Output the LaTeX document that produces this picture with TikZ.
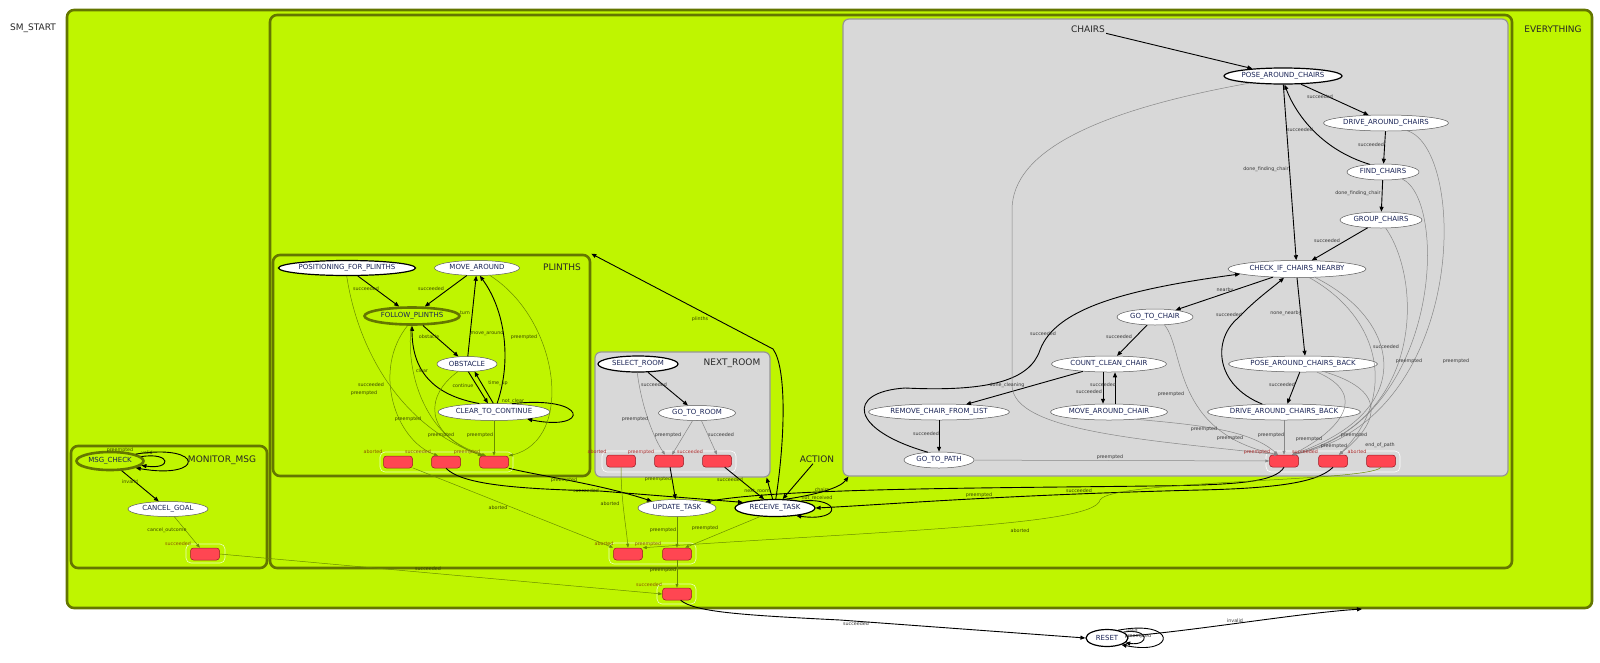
\documentclass[tikz,border=0pt]{standalone}
\usepackage{fontspec}
\setmainfont{DejaVu Sans}
\usetikzlibrary{arrows.meta,shapes.geometric}
\definecolor{cLime}{RGB}{191,245,0}
\definecolor{cOlive}{RGB}{100,118,0}
\definecolor{cGray}{RGB}{216,216,216}
\definecolor{cGrayB}{RGB}{150,150,150}
\definecolor{cText}{RGB}{25,35,85}
\definecolor{cRed}{RGB}{255,70,82}
\definecolor{cRedB}{RGB}{150,25,35}
\definecolor{cGE}{RGB}{135,135,135}
\definecolor{cOE}{RGB}{105,140,0}
\definecolor{cGL}{RGB}{55,55,55}
\definecolor{cOL}{RGB}{55,70,0}
\definecolor{cRL}{RGB}{170,45,45}
\definecolor{cYL}{RGB}{140,85,0}
\definecolor{cFrame}{RGB}{235,255,190}
\newcommand{\EL}[4]{\node[#1] (#2) at (#3) {#4};}
\begin{document}
\begin{tikzpicture}[x=1pt,y=-1pt,
 cont/.style={rectangle, draw=cOlive, line width=2.6pt, fill=cLime, rounded corners=7pt, inner sep=0},
 gcont/.style={rectangle, draw=cGrayB, line width=1.2pt, fill=cGray, rounded corners=6pt, inner sep=0},
 clbl/.style={font=\fontsize{9}{10}\selectfont, text=black!85, inner sep=1pt},
 st/.style={ellipse, draw=black!65, line width=0.5pt, fill=white, inner sep=0, minimum height=16pt, font=\fontsize{7}{8}\selectfont, text=cText},
 ist/.style={st, draw=black, line width=1.2pt},
 ast/.style={st, draw=cOlive, line width=2.6pt, fill=cLime},
 obox/.style={rectangle, rounded corners=3pt, draw=cRedB, line width=0.5pt, fill=cRed, minimum width=29pt, minimum height=12pt, inner sep=0},
 oframe/.style={rectangle, rounded corners=5pt, draw=cFrame, line width=0.6pt, inner sep=0},
 gframe/.style={rectangle, rounded corners=5pt, draw=white, line width=0.6pt, inner sep=0},
 tr/.style={draw=black, line width=0.9pt, -{Triangle[length=5pt,width=4pt]}},
 gtr/.style={draw=cGE, line width=0.5pt, -{Triangle[length=4pt,width=3pt]}},
 otr/.style={draw=cOE, line width=0.5pt, -{Triangle[length=4pt,width=3pt]}},
 lb/.style={font=\fontsize{4.8}{5}\selectfont, inner sep=0},
 gl/.style={lb, text=cGL}, ol/.style={lb, text=cOL}, rl/.style={lb, text=cRL}, yl/.style={lb, text=cYL}
]
\useasboundingbox (0,0) rectangle (1600,662);
% containers
\node[cont, minimum width=1525pt, minimum height=598pt] (cEvery) at (829.5,309) {};
\node[cont, minimum width=1242pt, minimum height=553pt] (cAction) at (891,291.5) {};
\node[gcont, minimum width=665pt, minimum height=457pt] (cChairs) at (1175.5,247.5) {};
\node[cont, minimum width=317pt, minimum height=221pt] (cPlinths) at (431.5,365.5) {};
\node[gcont, minimum width=175pt, minimum height=125pt] (cNext) at (682.5,414.5) {};
\node[cont, minimum width=196pt, minimum height=122pt] (cMon) at (169,507) {};
% container labels
\node[clbl] (smstart) at (33,28) {SM\_START};
\node[clbl] (everylbl) at (1553,29) {EVERYTHING};
\node[clbl] (chairslbl) at (1088,29) {CHAIRS};
\node[clbl] (plinthslbl) at (562,267) {PLINTHS};
\node[clbl] (nextlbl) at (732,363) {NEXT\_ROOM};
\node[clbl] (actionlbl) at (817,459) {ACTION};
\node[clbl] (monlbl) at (222,460) {MONITOR\_MSG};
% outcome frames and boxes
\node[oframe, minimum width=39pt, minimum height=19pt] (fMon) at (205.5,553.5) {};
\node[obox] (mbox) at (205,554) {};
\node[oframe, minimum width=133pt, minimum height=20pt] (fPl) at (446.5,462) {};
\node[obox] (pb1) at (398,462) {};
\node[obox] (pb2) at (446,462) {};
\node[obox] (pb3) at (494,462) {};
\node[gframe, minimum width=134pt, minimum height=21pt] (fNx) at (669,461.5) {};
\node[obox] (nb1) at (621,461) {};
\node[obox] (nb2) at (669,461) {};
\node[obox] (nb3) at (717,461) {};
\node[oframe, minimum width=87pt, minimum height=21pt] (fAc) at (652.5,553.5) {};
\node[obox] (ab1) at (628,554) {};
\node[obox] (ab2) at (677,554) {};
\node[oframe, minimum width=39pt, minimum height=20pt] (fEv) at (676.5,594) {};
\node[obox] (eb) at (677,594) {};
\node[gframe, minimum width=134pt, minimum height=21pt] (fCh) at (1333,461.5) {};
\node[obox] (cb1) at (1284,461) {};
\node[obox] (cb2) at (1333,461) {};
\node[obox] (cb3) at (1381,461) {};
% states
\node[ast, minimum width=67pt, minimum height=18pt] (msgcheck) at (110,461) {MSG\_CHECK};
\node[st, minimum width=80pt, minimum height=15pt] (cancelgoal) at (168,509) {CANCEL\_GOAL};
\node[ist, minimum width=137pt, minimum height=15pt] (positioning) at (347,268) {POSITIONING\_FOR\_PLINTHS};
\node[st, minimum width=85pt, minimum height=15pt] (movearound) at (477,268) {MOVE\_AROUND};
\node[ast, minimum width=95pt, minimum height=17pt] (follow) at (412,316) {FOLLOW\_PLINTHS};
\node[st, minimum width=60pt, minimum height=15pt] (obstacle) at (467,364) {OBSTACLE};
\node[st, minimum width=112pt, minimum height=17pt] (clearcont) at (494,412) {CLEAR\_TO\_CONTINUE};
\node[ist, minimum width=80pt] (selectroom) at (638,364) {SELECT\_ROOM};
\node[st, minimum width=77pt, minimum height=15pt] (gotoroom) at (697,413) {GO\_TO\_ROOM};
\node[st, minimum width=78pt, minimum height=17pt] (updatetask) at (677,508) {UPDATE\_TASK};
\node[ist, minimum width=80pt, minimum height=17pt] (receivetask) at (775,508) {RECEIVE\_TASK};
\node[ist, minimum width=42pt, minimum height=17pt] (reset) at (1107,638) {RESET};
\node[ist, minimum width=118pt] (posearound) at (1283,76) {POSE\_AROUND\_CHAIRS};
\node[st, minimum width=125pt] (drivearound) at (1386,123) {DRIVE\_AROUND\_CHAIRS};
\node[st, minimum width=72pt] (findchairs) at (1383,172) {FIND\_CHAIRS};
\node[st, minimum width=82pt] (groupchairs) at (1381,220) {GROUP\_CHAIRS};
\node[st, minimum width=138pt, minimum height=17pt] (checkif) at (1297,269) {CHECK\_IF\_CHAIRS\_NEARBY};
\node[st, minimum width=76pt] (gotochair) at (1155,317) {GO\_TO\_CHAIR};
\node[st, minimum width=115pt] (countclean) at (1109,364) {COUNT\_CLEAN\_CHAIR};
\node[st, minimum width=117pt] (movechair) at (1109,412) {MOVE\_AROUND\_CHAIR};
\node[st, minimum width=141pt] (removechair) at (939,412) {REMOVE\_CHAIR\_FROM\_LIST};
\node[st, minimum width=70pt] (gotopath) at (939,460) {GO\_TO\_PATH};
\node[st, minimum width=149pt] (poseback) at (1303,364) {POSE\_AROUND\_CHAIRS\_BACK};
\node[st, minimum width=153pt] (driveback) at (1284,412) {DRIVE\_AROUND\_CHAIRS\_BACK};
\coordinate (evin) at (1362,609);
% ---- MONITOR_MSG edges
\draw[tr] (msgcheck.15) .. controls (205,443) and (205,480) .. (msgcheck.-15);
\draw[tr] (msgcheck.8) .. controls (172,452) and (172,470) .. (msgcheck.-8);
\draw[tr] (msgcheck) -- (cancelgoal);
\draw[otr] (cancelgoal) -- (mbox);
\draw[otr] (mbox.east) -- (eb.west);
% ---- PLINTHS edges
\draw[tr] (positioning) -- (follow);
\draw[tr] (movearound) -- (follow);
\draw[tr] (follow) -- (obstacle);
\draw[tr] (obstacle) -- (movearound);
\draw[tr] (clearcont.70) .. controls (512,360) and (505,310) .. (movearound.-70);
\draw[tr] (clearcont.150) .. controls (432,395) and (412,370) .. (follow.-90);
\draw[tr] (obstacle.-80) -- (clearcont.125);
\draw[tr] (clearcont.95) -- (obstacle.-45);
\draw[tr] (clearcont.25) .. controls (590,395) and (590,432) .. (clearcont.-12);
\draw[otr] (positioning.-92) .. controls (358,350) and (400,425) .. ([xshift=-12pt]pb3.north);
\draw[otr] (follow.-115) .. controls (372,370) and (395,440) .. ([xshift=-8pt]pb2.north);
\draw[otr] (follow.-95) .. controls (405,380) and (430,440) .. ([xshift=-10pt]pb3.north);
\draw[otr] (obstacle.-140) .. controls (425,395) and (422,435) .. ([xshift=-8pt]pb3.north);
\draw[otr] (clearcont) -- (pb3);
\draw[otr] (movearound.-30) .. controls (560,320) and (575,440) .. (pb3.north east);
\draw[otr] (pb1) -- (ab1.north west);
\draw[tr] (pb2.south) .. controls (462,485) and (520,489) .. (600,491) -- (receivetask.170);
\draw[tr] (pb3.south east) .. controls (540,476) and (600,484) .. (updatetask.165);
% ---- NEXT_ROOM edges
\draw[tr] (selectroom) -- (gotoroom);
\draw[gtr] (selectroom.-95) .. controls (642,410) and (655,440) .. ([xshift=-4pt]nb2.north);
\draw[gtr] (gotoroom.-120) -- ([xshift=3pt]nb2.north);
\draw[gtr] (gotoroom.-60) -- (nb3.north);
\draw[otr] (nb1.south) .. controls (621,500) and (626,525) .. (ab1.north);
\draw[tr] (nb2) -- (updatetask);
\draw[tr] (nb3) -- (receivetask);
% ---- ACTION edges
\draw[tr] (actionlbl) -- (receivetask);
\draw[tr] (receivetask.105) -- ([xshift=-4pt]cNext.south east);
\draw[tr] (receivetask.85) .. controls (785,440) and (787,368) .. (773,349) -- (cPlinths.north east);
\draw[tr] (receivetask.40) .. controls (815,495) and (840,488) .. ([xshift=6pt]cChairs.south west);
\draw[tr] (receivetask.15) .. controls (842,497) and (842,522) .. (receivetask.-20);
\draw[otr] (updatetask) -- (ab2);
\draw[otr] (receivetask.-150) -- ([xshift=8pt]ab2.north);
\draw[otr] (ab2) -- (eb);
\draw[tr] (eb.-60) .. controls (695,612) and (740,615) .. (840,620) -- (reset.west);
\draw[tr] (reset.20) .. controls (1150,628) and (1150,646) .. (reset.-15);
\draw[tr] (reset.35) .. controls (1177,619) and (1177,656) .. (reset.-25);
\draw[tr] (reset.5) .. controls (1200,630) and (1300,613) .. (evin);
% ---- CHAIRS edges
\draw[tr] (chairslbl) -- (posearound);
\draw[tr] (posearound) -- (drivearound);
\draw[tr] (drivearound) -- (findchairs);
\draw[tr] (findchairs.150) .. controls (1322,150) and (1296,115) .. (posearound.-80);
\draw[tr] (posearound.-88) -- (checkif.95);
\draw[tr] (findchairs) -- (groupchairs);
\draw[tr] (groupchairs) -- (checkif);
\draw[tr] (checkif) -- (gotochair);
\draw[tr] (gotochair) -- (countclean);
\draw[tr] ([xshift=-6pt]countclean.south) -- ([xshift=-6pt]movechair.north);
\draw[tr] ([xshift=6pt]movechair.north) -- ([xshift=6pt]countclean.south);
\draw[tr] (countclean) -- (removechair);
\draw[tr] (removechair) -- (gotopath);
\draw[tr] (gotopath.145) .. controls (850,430) and (845,392) .. (905,388) .. controls (990,392) and (1030,380) .. (1040,350) .. controls (1055,310) and (1120,290) .. (checkif.185);
\draw[tr] (driveback.160) .. controls (1215,385) and (1212,340) .. (1238,318) .. controls (1255,300) and (1272,288) .. ([xshift=-13pt]checkif.south);
\draw[tr] (checkif.south) -- ([xshift=2pt]poseback.north);
\draw[tr] (poseback) -- (driveback);
\draw[gtr] (gotopath) -- (cb1);
\draw[gtr] (posearound.-168) .. controls (1100,110) and (1012,150) .. (1012,210) -- (1012,385) .. controls (1012,432) and (1150,440) .. ([xshift=-6pt]cb1.north);
\draw[gtr] (gotochair.-40) .. controls (1185,350) and (1172,432) .. ([xshift=-6pt]cb1.north);
\draw[gtr] (movechair.-15) .. controls (1200,425) and (1250,430) .. ([xshift=-6pt]cb1.north);
\draw[gtr] (driveback) -- (cb1);
\draw[gtr] (checkif.-25) .. controls (1400,320) and (1420,410) .. ([xshift=8pt]cb1.north);
\draw[gtr] (checkif.-35) .. controls (1385,320) and (1395,400) .. ([xshift=6pt]cb2.north);
\draw[gtr] (groupchairs.-60) .. controls (1422,280) and (1425,420) .. ([xshift=8pt]cb1.north);
\draw[gtr] (findchairs.-20) .. controls (1448,200) and (1442,420) .. ([xshift=8pt]cb1.north);
\draw[gtr] (drivearound.-20) .. controls (1468,150) and (1468,420) .. ([xshift=8pt]cb1.north);
\draw[gtr] (poseback.-20) .. controls (1385,390) and (1382,420) .. ([xshift=6pt]cb2.north);
\draw[gtr] (poseback.-30) .. controls (1370,395) and (1340,430) .. ([xshift=8pt]cb1.north);
\draw[tr] (cb1.south) .. controls (1275,482) and (1240,485) .. (1150,486) .. controls (1000,488) and (780,488) .. (updatetask.12);
\draw[tr] (cb2.south) .. controls (1320,480) and (1290,488) .. (1200,490) .. controls (1000,495) and (880,505) .. (receivetask.east);
\draw[otr] (cb3.south) .. controls (1370,482) and (1110,480) .. (1100,500) .. controls (1095,525) and (900,530) .. (ab1.north east);
% ---- labels
\EL{ol}{L1}{120,450}{preempted}
\EL{ol}{L2}{147,453}{valid}
\EL{ol}{L3}{130,482}{invalid}
\EL{ol}{L4}{167,530}{cancel\_outcome}
\EL{yl}{L5}{178,544}{succeeded}
\EL{ol}{L6}{428,569}{succeeded}
\EL{ol}{L7}{366,289}{succeeded}
\EL{ol}{L8}{431,289}{succeeded}
\EL{ol}{L9}{429,337}{obstacle}
\EL{ol}{L10}{465,313}{turn}
\EL{ol}{L11}{487,333}{move\_around}
\EL{ol}{L12}{422,371}{clear}
\EL{ol}{L13}{463,386}{continue}
\EL{ol}{L14}{498,383}{time\_up}
\EL{ol}{L15}{513,401}{not\_clear}
\EL{ol}{L16}{364,393}{preempted}
\EL{ol}{L17}{371,385}{succeeded}
\EL{ol}{L18}{408,419}{preempted}
\EL{ol}{L19}{441,435}{preempted}
\EL{ol}{L20}{480,435}{preempted}
\EL{ol}{L21}{524,337}{preempted}
\EL{yl}{L22}{373,452}{aborted}
\EL{yl}{L23}{418,452}{succeeded}
\EL{yl}{L24}{467,452}{preempted}
\EL{ol}{L25}{498,508}{aborted}
\EL{ol}{L26}{586,491}{succeeded}
\EL{ol}{L27}{564,480}{preempted}
\EL{gl}{L28}{654,385}{succeeded}
\EL{gl}{L29}{635,419}{preempted}
\EL{gl}{L30}{668,435}{preempted}
\EL{gl}{L31}{721,435}{succeeded}
\EL{rl}{L32}{597,452}{aborted}
\EL{rl}{L33}{641,452}{preempted}
\EL{rl}{L34}{690,452}{succeeded}
\EL{ol}{L35}{610,504}{aborted}
\EL{ol}{L36}{658,479}{preempted}
\EL{ol}{L37}{730,480}{succeeded}
\EL{ol}{L38}{757,491}{next\_room}
\EL{ol}{L39}{700,319}{plinths}
\EL{ol}{L40}{822,490}{chairs}
\EL{ol}{L41}{817,498}{not\_received}
\EL{ol}{L42}{663,530}{preempted}
\EL{ol}{L43}{705,528}{preempted}
\EL{yl}{L44}{604,544}{aborted}
\EL{yl}{L45}{648,544}{preempted}
\EL{ol}{L46}{663,570}{preempted}
\EL{yl}{L47}{649,585}{succeeded}
\EL{gl}{L48}{856,624}{succeeded}
\EL{gl}{L49}{1132,631}{valid}
\EL{gl}{L50}{1138,636}{preempted}
\EL{gl}{L51}{1235,621}{invalid}
\EL{ol}{L52}{979,495}{preempted}
\EL{ol}{L53}{1079,491}{succeeded}
\EL{ol}{L54}{1020,531}{aborted}
\EL{gl}{L55}{1320,97}{succeeded}
\EL{gl}{L56}{1371,145}{succeeded}
\EL{gl}{L57}{1300,130}{succeeded}
\EL{gl}{L58}{1266,169}{done\_finding\_chair}
\EL{gl}{L59}{1358,193}{done\_finding\_chair}
\EL{gl}{L60}{1327,241}{succeeded}
\EL{gl}{L61}{1225,290}{nearby}
\EL{gl}{L62}{1043,334}{succeeded}
\EL{gl}{L63}{1229,315}{succeeded}
\EL{gl}{L64}{1286,313}{none\_nearby}
\EL{gl}{L65}{1119,337}{succeeded}
\EL{gl}{L66}{1007,385}{done\_cleaning}
\EL{gl}{L67}{1103,385}{succeeded}
\EL{gl}{L68}{1089,392}{succeeded}
\EL{gl}{L69}{926,434}{succeeded}
\EL{gl}{L70}{1110,457}{preempted}
\EL{gl}{L71}{1171,394}{preempted}
\EL{gl}{L72}{1204,429}{preempted}
\EL{gl}{L73}{1230,438}{preempted}
\EL{gl}{L74}{1282,385}{succeeded}
\EL{gl}{L75}{1271,435}{preempted}
\EL{gl}{L76}{1386,347}{succeeded}
\EL{gl}{L77}{1409,361}{preempted}
\EL{gl}{L78}{1456,361}{preempted}
\EL{gl}{L79}{1309,439}{preempted}
\EL{gl}{L80}{1334,446}{preempted}
\EL{gl}{L81}{1354,435}{preempted}
\EL{gl}{L82}{1380,445}{end\_of\_path}
\EL{rl}{L83}{1257,452}{preempted}
\EL{rl}{L84}{1305,452}{succeeded}
\EL{rl}{L85}{1357,452}{aborted}
\end{tikzpicture}
\end{document}
